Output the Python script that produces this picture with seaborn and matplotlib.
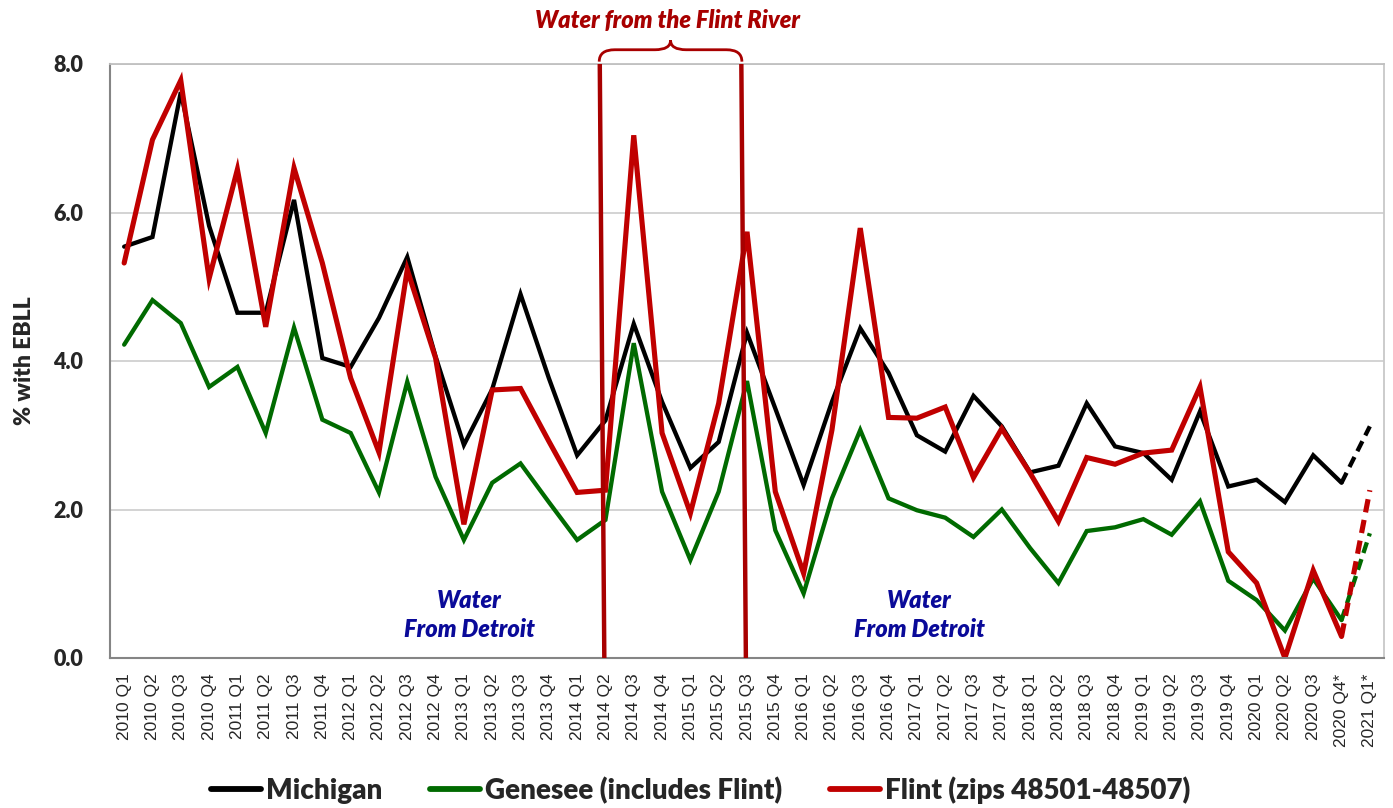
import numpy as np
import pandas as pd
import matplotlib
matplotlib.use("Agg")
import matplotlib.pyplot as plt
from matplotlib.path import Path
from matplotlib.patches import PathPatch
from matplotlib.lines import Line2D
import matplotlib.transforms as mtransforms
import seaborn as sns

# ---------------- data ----------------
quarters = [f"{y} Q{q}" for y in range(2010, 2021) for q in range(1, 5)]
quarters[-1] = "2020 Q4*"
quarters.append("2021 Q1*")

michigan = [5.54, 5.67, 7.62, 5.82,
            4.65, 4.65, 6.17, 4.04,
            3.92, 4.58, 5.40, 4.06,
            2.87, 3.62, 4.90, 3.77,
            2.73, 3.20, 4.50, 3.45,
            2.56, 2.91, 4.38, 3.36,
            2.33, 3.45, 4.44, 3.84,
            3.00, 2.78, 3.53, 3.12,
            2.50, 2.59, 3.43, 2.85,
            2.76, 2.40, 3.32, 2.31,
            2.40, 2.10, 2.73, 2.36,
            3.12]
genesee = [4.22, 4.82, 4.51, 3.65,
           3.92, 3.03, 4.45, 3.21,
           3.03, 2.23, 3.72, 2.44,
           1.59, 2.36, 2.62, 2.10,
           1.59, 1.86, 4.24, 2.24,
           1.32, 2.24, 3.73, 1.72,
           0.87, 2.15, 3.07, 2.15,
           1.99, 1.89, 1.63, 2.00,
           1.48, 1.01, 1.71, 1.76,
           1.87, 1.66, 2.11, 1.04,
           0.78, 0.37, 1.07, 0.51,
           1.68]
flint = [5.32, 6.98, 7.78, 5.11,
         6.58, 4.46, 6.60, 5.32,
         3.77, 2.77, 5.23, 4.04,
         1.80, 3.61, 3.63, 2.92,
         2.23, 2.26, 7.04, 3.03,
         1.95, 3.43, 5.74, 2.24,
         1.14, 3.07, 5.79, 3.24,
         3.23, 3.38, 2.43, 3.09,
         2.49, 1.84, 2.70, 2.61,
         2.76, 2.80, 3.65, 1.43,
         1.01, 0.00, 1.18, 0.29,
         2.26]

series_names = ["Michigan", "Genesee (includes Flint)", "Flint (zips 48501-48507)"]
series_values = [michigan, genesee, flint]
series_colors = ["#000000", "#006A00", "#C00000"]
series_widths = [3.1, 3.1, 3.7]

switch_start = "2014 Q2"
switch_end = "2015 Q3"
n_solid = len(quarters) - 2  # last two quarters are provisional (dashed)

# ---------------- style ----------------
sns.set_theme(style="white")
plt.rcParams["font.family"] = ["Lato", "DejaVu Sans"]

fig = plt.figure(figsize=(13.93, 8.08), dpi=100)
ax = fig.add_axes([110 / 1393, 1 - 658 / 808, 1274 / 1393, 594 / 808])

x = np.arange(len(quarters))
for name, vals, col, lw in zip(series_names, series_values, series_colors, series_widths):
    vals = np.asarray(vals)
    sns.lineplot(x=x[:n_solid + 1], y=vals[:n_solid + 1], color=col, lw=lw, ax=ax,
                 solid_joinstyle="miter", solid_capstyle="round")
    sns.lineplot(x=x[n_solid:], y=vals[n_solid:], color=col, lw=lw, ax=ax,
                 linestyle=(0, (2.6, 1.5)), dash_capstyle="butt")

# vertical lines marking the Flint river water period
vcol = "#A80000"
i0 = quarters.index(switch_start)
i1 = quarters.index(switch_end)
for i in (i0, i1):
    ax.plot([i - 0.2, i - 0.04], [8.0, 0.0], color=vcol, lw=3.2, zorder=5, solid_capstyle="butt")

# curly brace above
trans = mtransforms.blended_transform_factory(ax.transData, ax.transAxes)
xl, xr = i0 - 0.22, i1 - 0.18
xm = (xl + xr) / 2
r = 0.55
yb, ym, yt = 1.004, 1.024, 1.040
verts = [(xl, yb), (xl, ym), (xl + r, ym), (xm - r, ym), (xm, ym), (xm, yt),
         (xm, ym), (xm + r, ym), (xr - r, ym), (xr, ym), (xr, yb)]
codes = [Path.MOVETO, Path.CURVE3, Path.CURVE3, Path.LINETO, Path.CURVE3, Path.CURVE3,
         Path.CURVE3, Path.CURVE3, Path.LINETO, Path.CURVE3, Path.CURVE3]
brace = PathPatch(Path(verts, codes), transform=trans, fill=False, edgecolor=vcol,
                  lw=2.0, clip_on=False)
ax.add_patch(brace)
ax.text(xm - 0.1, 1.074, "Water from the Flint River", transform=trans, ha="center",
        va="center", color=vcol, fontsize=17, fontweight="heavy", fontstyle="italic")

# water from Detroit labels
for cx in (12.2, 28.1):
    ax.text(cx, 0.58, "Water\nFrom Detroit", ha="center", va="center", color="#0A0A99",
            fontsize=17, fontweight="heavy", fontstyle="italic", linespacing=1.35)

# ---------------- axes ----------------
ax.set_xlim(-0.5, len(quarters) - 0.5)
ax.set_ylim(0, 8)
ax.set_yticks([0, 2, 4, 6, 8])
ax.set_yticklabels([f"{v:.1f}" for v in [0, 2, 4, 6, 8]], fontsize=15.5, fontweight="heavy")
ax.set_xticks(x)
ax.set_xticklabels(quarters, rotation=90, fontsize=12.5, family="Liberation Sans")
ax.set_xticks(np.arange(len(quarters) + 1) - 0.5, minor=True)
ax.tick_params(axis="x", which="major", length=0, pad=11)
ax.tick_params(axis="x", which="minor", length=12, width=1.3, color="#858585", direction="inout")
ax.tick_params(axis="y", which="major", length=15, width=1.3, color="#858585", direction="inout",
               pad=12)
ax.grid(axis="y", color="#D0D0D0", lw=1.3)
ax.set_axisbelow(True)
for s in ("left", "bottom"):
    ax.spines[s].set_color("#858585")
    ax.spines[s].set_linewidth(1.5)
ax.spines["right"].set_color("#C8C8C8")
ax.spines["right"].set_linewidth(1.3)
ax.spines["top"].set_color("#C0C0C0")
ax.spines["top"].set_linewidth(1.3)
ax.set_xlabel("")
ax.set_ylabel("% with EBLL", fontsize=16.5, fontweight="heavy", labelpad=13)

# legend
handles = [Line2D([], [], color=c, lw=4.2) for c in series_colors]
fig.legend(handles, series_names, loc="center", bbox_to_anchor=(0.503, 0.022), ncol=3,
           frameon=False, prop={"size": 20, "weight": "heavy"}, handlelength=1.8,
           handletextpad=0.2, columnspacing=1.7)

fig.savefig("out.png", dpi=100)
